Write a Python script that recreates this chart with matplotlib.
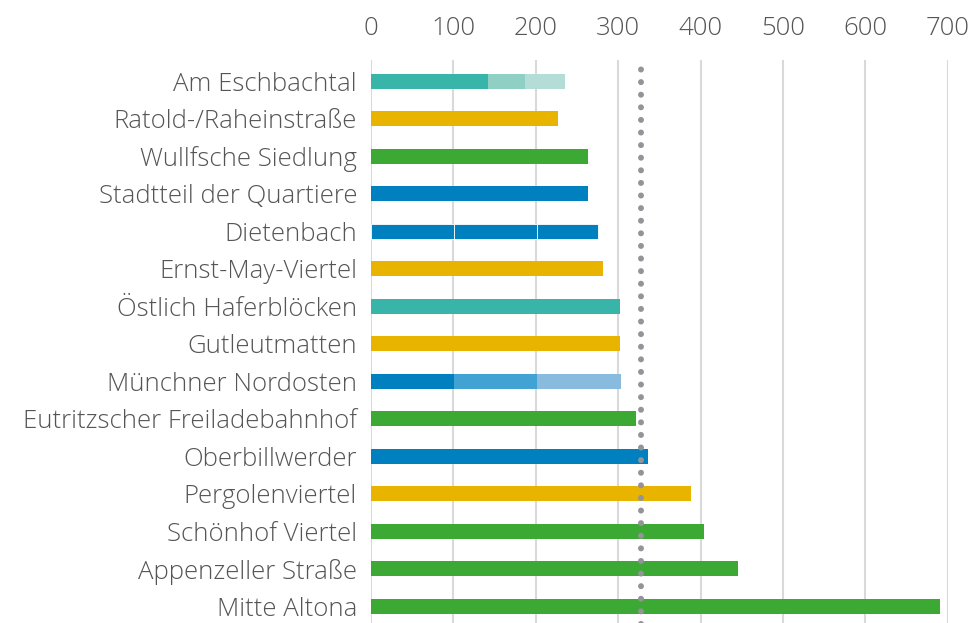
import matplotlib
matplotlib.use('Agg')
import matplotlib.pyplot as plt

# Quartiere, von oben nach unten
names = ['Am Eschbachtal', 'Ratold-/Raheinstraße', 'Wullfsche Siedlung',
         'Stadtteil der Quartiere', 'Dietenbach', 'Ernst-May-Viertel',
         'Östlich Haferblöcken', 'Gutleutmatten', 'Münchner Nordosten',
         'Eutritzscher Freiladebahnhof', 'Oberbillwerder', 'Pergolenviertel',
         'Schönhof Viertel', 'Appenzeller Straße', 'Mitte Altona']

# Segmentlängen je Balken (mehrteilige Balken haben mehrere Werte)
segments = [[142, 45, 49], [227], [263], [263], [101, 100, 74], [282],
            [302], [302], [101, 101, 101], [322], [336], [388], [404],
            [446], [691]]

seg_colors = [['#38b5a8', '#8fcfc4', '#b4ddd7'], ['#e8b400'], ['#3da935'],
              ['#0080be'], ['#0080be', '#0080be', '#0080be'], ['#e8b400'],
              ['#38b5a8'], ['#e8b400'], ['#0080be', '#43a2d4', '#89bbdf'],
              ['#3da935'], ['#0080be'], ['#e8b400'], ['#3da935'],
              ['#3da935'], ['#3da935']]

reference = 328
xticks = [0, 100, 200, 300, 400, 500, 600, 700]

plt.rcParams['font.family'] = ['Open Sans', 'DejaVu Sans']
textcol = '#555555'

fig = plt.figure(figsize=(9.71, 6.23), dpi=100)
ax = fig.add_axes([0.382, -0.006, 0.594, 0.909])

for i, (segs, cols) in enumerate(zip(segments, seg_colors)):
    left = 0
    same = len(set(cols)) == 1 and len(cols) > 1
    for w, c in zip(segs, cols):
        ax.barh(i, w, left=left, height=0.4, color=c, zorder=2,
                edgecolor='white' if same else 'none',
                linewidth=0.6 if same else 0)
        left += w

ax.axvline(reference, color='#939398', lw=4.3, linestyle=(0, (0.01, 2.1)),
           dash_capstyle='round', zorder=3)

ax.set_xlim(0, 700)
ax.set_ylim(14.55, -0.55)
ax.set_xticks(xticks)
ax.set_yticks(range(len(names)))
ax.set_yticklabels(names)
ax.xaxis.tick_top()
ax.tick_params(axis='both', length=0, labelsize=18.5, colors=textcol)
ax.tick_params(axis='y', pad=10)
ax.tick_params(axis='x', pad=14)
for lab in ax.get_xticklabels() + ax.get_yticklabels():
    lab.set_fontweight('light')
ax.grid(axis='x', color='#d9d9d9', lw=1.5, zorder=0)
ax.set_axisbelow(True)
for s in ax.spines.values():
    s.set_visible(False)

plt.savefig('out.png', dpi=100)
